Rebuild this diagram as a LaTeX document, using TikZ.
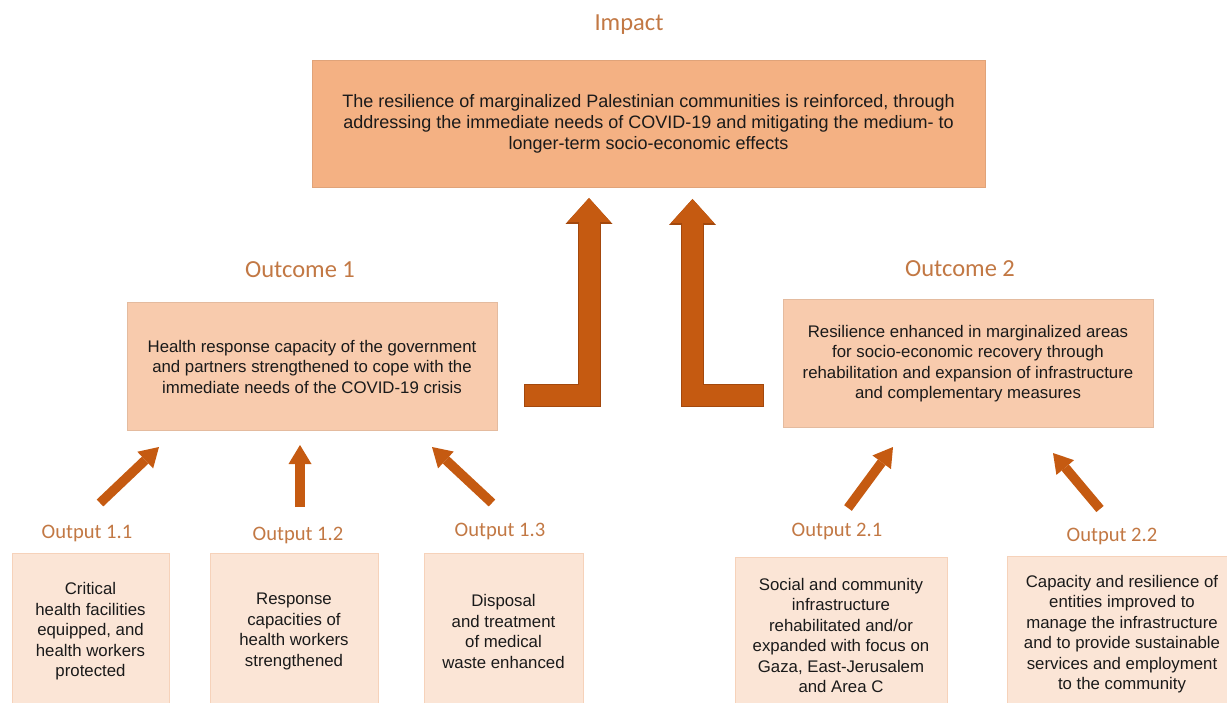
\documentclass[tikz,border=0pt]{standalone}
\usepackage{fontspec}
\setmainfont{Liberation Sans}
\newfontfamily\headfont{Carlito}
\usetikzlibrary{arrows.meta,positioning}
\definecolor{impactfill}{HTML}{F4B183}
\definecolor{outcomefill}{HTML}{F8CBAD}
\definecolor{outputfill}{HTML}{FBE5D6}
\definecolor{outputline}{HTML}{F6D2BA}
\definecolor{headtext}{HTML}{C27844}
\definecolor{arrowfill}{HTML}{C55A11}
\definecolor{arrowedge}{HTML}{A3480D}
\definecolor{bodytext}{HTML}{1A1A1A}
\tikzset{
	head/.style={font=\headfont\fontsize{24.5}{28}\selectfont,text=headtext},
	subhead/.style={font=\headfont\fontsize{20.6}{24}\selectfont,text=headtext},
	impactbox/.style={fill=impactfill,draw=impactfill!92!black,line width=0.8pt,align=center,text=bodytext,
		minimum width=673pt,minimum height=127pt,font=\fontsize{18}{21}\selectfont},
	outcomebox/.style={fill=outcomefill,draw=outcomefill!92!black,line width=0.8pt,align=center,text=bodytext,
		minimum height=128pt,font=\fontsize{16.8}{20.5}\selectfont},
	outputbox/.style={fill=outputfill,draw=outputline,line width=0.8pt,align=center,text=bodytext,
		anchor=north,minimum height=156pt,font=\fontsize{16.8}{20.5}\selectfont},
	bigarrow/.style={line width=21pt,draw=arrowfill,-{Triangle[width=43pt,length=24pt,line width=0pt]},
		preaction={draw=arrowedge,line width=23pt,shorten <=-1pt,-{Triangle[width=47pt,length=26pt,line width=0pt]}}},
	smallarrow/.style={line width=9.5pt,draw=arrowfill,-{Triangle[width=23pt,length=19pt,line width=0pt]}}
}

\begin{document}
\begin{tikzpicture}[x=1pt,y=-1pt]
	\clip (0,0) rectangle (1227,703);
	\useasboundingbox (0,0) rectangle (1227,703);
	% impact
	\node[head] (impactlbl) at (629,25) {Impact};
	\node[impactbox] (impact) at (648.5,123.5) {The resilience of marginalized Palestinian communities is reinforced, through\\
		addressing the immediate needs of COVID-19 and mitigating the medium- to\\
		longer-term socio-economic effects};
	% outcomes
	\node[head] (oc1lbl) at (300,270) {Outcome 1};
	\node[outcomebox,minimum width=370pt] (oc1) at (312,366.5) {Health response capacity of the government\\
		and partners strengthened to cope with the\\
		immediate needs of the COVID-19 crisis};
	\node[head] (oc2lbl) at (960,269) {Outcome 2};
	\node[outcomebox,minimum width=370pt] (oc2) at (968,363.5) {Resilience enhanced in marginalized areas\\
		for socio-economic recovery through\\
		rehabilitation and expansion of infrastructure\\
		and complementary measures};
	% outputs
	\node[outputbox,minimum width=157pt] (op11) at (90.5,553) {Critical\\health facilities\\equipped, and\\health workers\\protected};
	\node[outputbox,minimum width=168pt] (op12) at (294,553) {Response\\capacities of\\health workers\\strengthened};
	\node[outputbox,minimum width=159pt] (op13) at (503.5,553) {Disposal\\and treatment\\of medical\\waste enhanced};
	\node[outputbox,minimum width=212pt] (op21) at (841,557) {Social and community\\infrastructure\\rehabilitated and/or\\expanded with focus on\\Gaza, East-Jerusalem\\and Area C};
	\node[outputbox,minimum width=230pt] (op22) at (1122,556) {Capacity and resilience of\\entities improved to\\manage the infrastructure\\and to provide sustainable\\services and employment\\to the community};
	\node[subhead] (op11lbl) at (87,533) {Output 1.1};
	\node[subhead] (op12lbl) at (298,535) {Output 1.2};
	\node[subhead] (op13lbl) at (500,531) {Output 1.3};
	\node[subhead] (op21lbl) at (837,531) {Output 2.1};
	\node[subhead] (op22lbl) at (1112,536) {Output 2.2};
	% big arrows up to the impact
	\coordinate (b1) at (525,395.5);
	\coordinate (t1) at (589,198);
	\coordinate (b2) at (763,395.5);
	\coordinate (t2) at (692.5,199);
	\draw[bigarrow] (b1) -| (t1);
	\draw[bigarrow] (b2) -| (t2);
	% small arrows up to the outcomes
	\coordinate (s11) at (100,503);
	\coordinate (e11) at (159,447);
	\coordinate (s12) at (300,507);
	\coordinate (e12) at (300,445);
	\coordinate (s13) at (492,503);
	\coordinate (e13) at (432,447);
	\coordinate (s21) at (848,508);
	\coordinate (e21) at (893,447);
	\coordinate (s22) at (1100,509);
	\coordinate (e22) at (1053,453);
	\foreach \i in {11,12,13,21,22}
		\draw[smallarrow] (s\i) -- (e\i);
\end{tikzpicture}
\end{document}
